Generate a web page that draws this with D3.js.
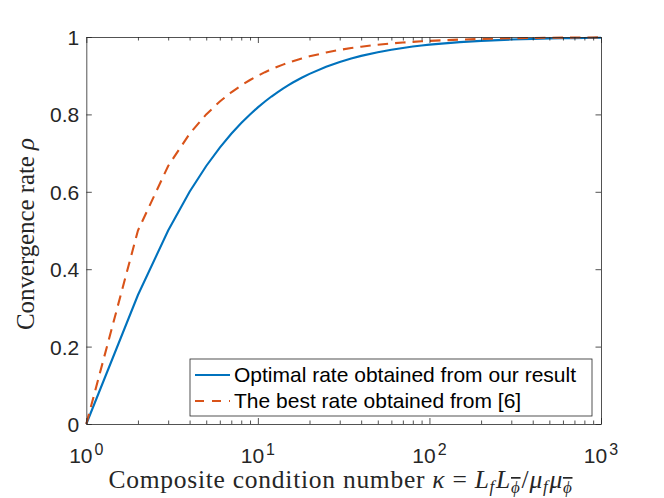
<!DOCTYPE html>
<html>
<head>
<meta charset="utf-8">
<script src="https://cdn.jsdelivr.net/npm/d3@7"></script>
<style>
  html, body { margin: 0; padding: 0; background: #fff; }
  svg { display: block; }
</style>
</head>
<body>
<svg id="chart" width="664" height="498"></svg>
<script>
// ---- data ----
const kappa = [1, 2, 3, 4, 5, 6, 7, 8, 9, 10, 11, 12, 13, 14, 15, 16, 18, 20, 25, 30, 35, 40, 50, 60, 70, 80, 90, 100, 150, 200, 300, 400, 500, 600, 700, 800, 900, 1000];
const rateOurs = [0, 0.3333, 0.5, 0.6, 0.6667, 0.7143, 0.75, 0.7778, 0.8, 0.8182, 0.8333, 0.8462, 0.8571, 0.8667, 0.875, 0.8824, 0.8947, 0.9048, 0.9231, 0.9355, 0.9444, 0.9512, 0.9608, 0.9672, 0.9718, 0.9753, 0.978, 0.9802, 0.9868, 0.99, 0.9934, 0.995, 0.996, 0.9967, 0.9971, 0.9975, 0.9978, 0.998];
const rateRef = [0, 0.5, 0.6667, 0.75, 0.8, 0.8333, 0.8571, 0.875, 0.8889, 0.9, 0.9091, 0.9167, 0.9231, 0.9286, 0.9333, 0.9375, 0.9444, 0.95, 0.96, 0.9667, 0.9714, 0.975, 0.98, 0.9833, 0.9857, 0.9875, 0.9889, 0.99, 0.9933, 0.995, 0.9967, 0.9975, 0.998, 0.9983, 0.9986, 0.9988, 0.9989, 0.999];
const xTickValues = [1, 10, 100, 1000];
const xTickExponents = ["0", "1", "2", "3"];
const yTickValues = [0, 0.2, 0.4, 0.6, 0.8, 1];
const yTickLabels = ["0", "0.2", "0.4", "0.6", "0.8", "1"];
const seriesNames = ["Optimal rate obtained from our result", "The best rate obtained from [6]"];

// ---- layout ----
const L = 86.3, R = 601, T = 37, B = 424;
const axisColor = "#262626";
const blue = "#0072BD", orange = "#D95319";
const sans = "'Liberation Sans', Arial, Helvetica, sans-serif";
const serif = "'Liberation Serif', 'Times New Roman', serif";

const svg = d3.select("#chart");
const x = d3.scaleLog().domain([1, 1000]).range([L, R]);
const y = d3.scaleLinear().domain([0, 1]).range([B, T]);

// ---- lines ----
const pts = kappa.map((k, i) => ({k, a: rateOurs[i], b: rateRef[i]}));
const lineA = d3.line().x(d => x(d.k)).y(d => y(d.a));
const lineB = d3.line().x(d => x(d.k)).y(d => y(d.b));

svg.append("path").datum(pts).attr("d", lineA)
  .attr("fill", "none").attr("stroke", blue).attr("stroke-width", 2.1);
svg.append("path").datum(pts).attr("d", lineB)
  .attr("fill", "none").attr("stroke", orange).attr("stroke-width", 2.1)
  .attr("stroke-dasharray", "10.5,7");

// ---- axes ----
const minorTicks = x.ticks().filter(v => xTickValues.indexOf(v) < 0);

function styleAxis(g) {
  g.selectAll("path.domain").attr("stroke", axisColor).attr("stroke-width", 0.8);
  g.selectAll(".tick line").attr("stroke", axisColor).attr("stroke-width", 0.8);
}

svg.append("g").attr("transform", `translate(0,${B})`)
  .call(d3.axisBottom(x).tickValues(xTickValues).tickSize(-6).tickSizeOuter(0).tickFormat(""))
  .call(styleAxis);
svg.append("g").attr("transform", `translate(0,${B})`)
  .call(d3.axisBottom(x).tickValues(minorTicks).tickSize(-3.5).tickSizeOuter(0).tickFormat(""))
  .call(styleAxis).call(g => g.select("path.domain").remove());
svg.append("g").attr("transform", `translate(0,${T})`)
  .call(d3.axisTop(x).tickValues(xTickValues).tickSize(-6).tickSizeOuter(0).tickFormat(""))
  .call(styleAxis);
svg.append("g").attr("transform", `translate(0,${T})`)
  .call(d3.axisTop(x).tickValues(minorTicks).tickSize(-3.5).tickSizeOuter(0).tickFormat(""))
  .call(styleAxis).call(g => g.select("path.domain").remove());
const yAxisL = svg.append("g").attr("transform", `translate(${L},0)`)
  .call(d3.axisLeft(y).tickValues(yTickValues).tickSize(-5.5).tickSizeOuter(0).tickPadding(7)
    .tickFormat((d, i) => yTickLabels[i]))
  .call(styleAxis);
yAxisL.selectAll(".tick text")
  .attr("font-family", sans).attr("font-size", 21).attr("fill", axisColor)
  .attr("dy", "0.36em");
svg.append("g").attr("transform", `translate(${R},0)`)
  .call(d3.axisRight(y).tickValues(yTickValues).tickSize(-5.5).tickSizeOuter(0).tickFormat(""))
  .call(styleAxis);

// x tick labels 10^n
const xl = svg.append("g");
xTickValues.forEach((v, i) => {
  const t = xl.append("text")
    .attr("x", x(v)).attr("y", 463)
    .attr("text-anchor", "middle")
    .attr("font-family", sans).attr("font-size", 21).attr("fill", axisColor);
  t.append("tspan").text("10");
  t.append("tspan").attr("font-size", 16).attr("dx", 2).attr("dy", -8).text(xTickExponents[i]);
});

// fit a label to a target length by adjusting letter spacing
function fitWidth(sel, target) {
  const node = sel.node();
  const w = node.getComputedTextLength();
  const n = node.getNumberOfChars();
  sel.attr("letter-spacing", ((target - w) / n).toFixed(2));
}

// ---- axis labels ----
const xlab = svg.append("text")
  .attr("x", 340.5).attr("y", 488)
  .attr("text-anchor", "middle")
  .attr("font-family", serif).attr("font-size", 25.5).attr("fill", axisColor);
xlab.append("tspan").text("Composite condition number ");
xlab.append("tspan").attr("font-style", "italic").text("κ");
xlab.append("tspan").text(" = ");
xlab.append("tspan").attr("font-style", "italic").text("L");
xlab.append("tspan").attr("font-style", "italic").attr("font-size", 17).attr("dy", 4).text("f");
xlab.append("tspan").attr("font-style", "italic").attr("dy", -4).attr("dx", 1).text("L");
xlab.append("tspan").attr("font-style", "italic").attr("font-size", 17).attr("dy", 5)
  .style("text-decoration", "overline").text("ϕ");
xlab.append("tspan").attr("dy", -5).attr("dx", 1).text("/");
xlab.append("tspan").attr("font-style", "italic").text("μ");
xlab.append("tspan").attr("font-style", "italic").attr("font-size", 17).attr("dy", 4).text("f");
xlab.append("tspan").attr("font-style", "italic").attr("dy", -4).attr("dx", 1).text("μ");
xlab.append("tspan").attr("font-style", "italic").attr("font-size", 17).attr("dy", 5)
  .style("text-decoration", "overline").text("ϕ");
fitWidth(xlab, 461);

const ylab = svg.append("text")
  .attr("transform", `translate(34,234) rotate(-90)`)
  .attr("text-anchor", "middle")
  .attr("font-family", serif).attr("font-size", 25).attr("fill", axisColor);
ylab.append("tspan").text("Convergence rate ");
ylab.append("tspan").attr("font-style", "italic").text("ρ");
fitWidth(ylab, 192);

// ---- legend ----
const lg = svg.append("g");
lg.append("rect").attr("x", 190).attr("y", 359).attr("width", 402).attr("height", 57)
  .attr("fill", "#fff").attr("stroke", axisColor).attr("stroke-width", 0.8);
const rows = [
  {name: seriesNames[0], color: blue, dash: null, yl: 375, yt: 382},
  {name: seriesNames[1], color: orange, dash: "9,8", yl: 401, yt: 408}
];
rows.forEach(r => {
  lg.append("line").attr("x1", 195).attr("x2", 230).attr("y1", r.yl).attr("y2", r.yl)
    .attr("stroke", r.color).attr("stroke-width", 2.1)
    .attr("stroke-dasharray", r.dash);
  lg.append("text").attr("x", 234).attr("y", r.yt)
    .attr("font-family", sans).attr("font-size", 21).attr("fill", "#000")
    .text(r.name);
});
</script>
</body>
</html>
